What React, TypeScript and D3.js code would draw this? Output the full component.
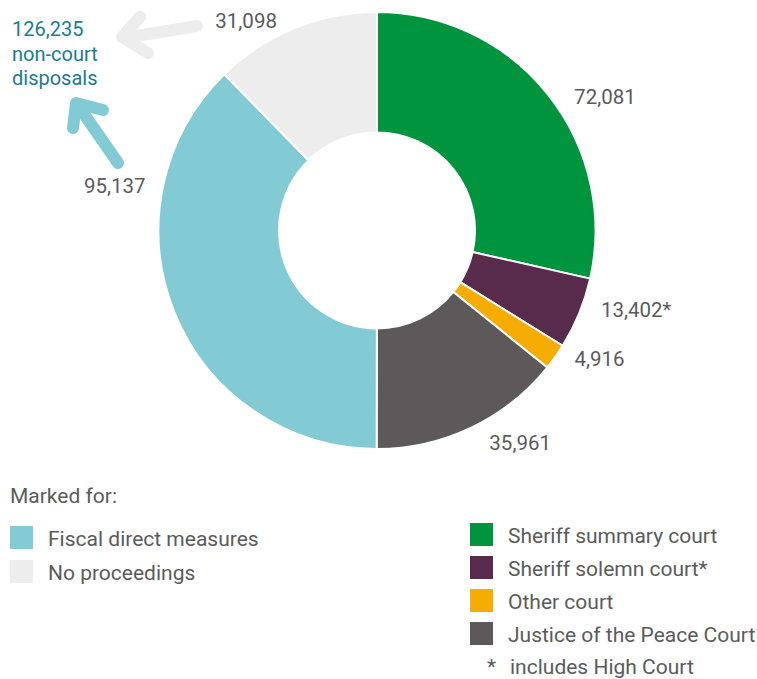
import { useEffect, useRef } from "react";
import * as d3 from "d3";

// slices, clockwise from 12 o'clock
const categories = [
  "Sheriff summary court",
  "Sheriff solemn court*",
  "Other court",
  "Justice of the Peace Court",
  "Fiscal direct measures",
  "No proceedings",
];
const values = [72081, 13402, 4916, 35961, 95137, 31098];
const valueLabels = ["72,081", "13,402*", "4,916", "35,961", "95,137", "31,098"];
const colors = ["#00943f", "#582a4b", "#f6ac00", "#5d5859", "#82cbd4", "#ededed"];

const rightLegend = [0, 1, 2, 3];
const leftLegend = [4, 5];
const nonCourtText = ["126,235", "non-court", "disposals"];

// label placement around the ring: angle (deg from top) and radius
const labelPolar: [number, number][] = [
  [59.7, 264],
  [107, 271],
  [120, 257],
  [146, 256],
  [279.7, 266],
  [328, 247],
];

export default function App() {
  const ref = useRef<SVGSVGElement>(null);

  useEffect(() => {
    const svg = d3.select(ref.current);
    svg.selectAll("*").remove();

    const cx = 377;
    const cy = 230.5;
    const outer = 218.5;
    const inner = 98;
    const font = "Roboto, 'Open Sans', sans-serif";
    const textColor = "#5b5b5b";

    const pie = d3.pie<number>().sort(null).value((d) => d);
    const arc = d3
      .arc<d3.PieArcDatum<number>>()
      .innerRadius(inner)
      .outerRadius(outer);

    const g = svg.append("g").attr("transform", `translate(${cx},${cy})`);
    g.selectAll("path")
      .data(pie(values))
      .join("path")
      .attr("d", arc)
      .attr("fill", (d, i) => colors[i])
      .attr("stroke", "#fff")
      .attr("stroke-width", 2);

    g.selectAll("text.val")
      .data(valueLabels)
      .join("text")
      .attr("class", "val")
      .attr("transform", (d, i) => {
        const [a, r] = labelPolar[i];
        const [x, y] = d3.pointRadial((a * Math.PI) / 180, r);
        return `translate(${x},${y})`;
      })
      .attr("text-anchor", "middle")
      .attr("dy", "0.35em")
      .attr("font-family", font)
      .attr("font-size", 20.5)
      .attr("fill", textColor)
      .text((d) => d);

    // arrows pointing to the "non-court" note
    const arrows = [
      { color: "#ededed", shaft: [[197, 26], [124, 38]], head: [[140, 17], [122, 37], [148, 53]] },
      { color: "#82cbd4", shaft: [[118, 163], [77, 104]], head: [[103, 110], [76, 103], [73, 128]] },
    ];
    const line = d3.line();
    arrows.forEach((a) => {
      [a.shaft, a.head].forEach((pts) => {
        svg
          .append("path")
          .attr("d", line(pts as [number, number][]))
          .attr("fill", "none")
          .attr("stroke", a.color)
          .attr("stroke-width", 12)
          .attr("stroke-linecap", "round")
          .attr("stroke-linejoin", "round");
      });
    });

    svg
      .append("g")
      .selectAll("text")
      .data(nonCourtText)
      .join("text")
      .attr("x", 12)
      .attr("y", (d, i) => 36 + i * 24.5)
      .attr("font-family", font)
      .attr("font-size", 20)
      .attr("fill", "#1a7b92")
      .text((d) => d);

    // legends
    svg
      .append("text")
      .attr("x", 10)
      .attr("y", 503)
      .attr("font-family", font)
      .attr("font-size", 21)
      .attr("fill", textColor)
      .text("Marked for:");

    const drawLegend = (idx: number[], x: number, y0: number, step: number) => {
      const lg = svg
        .append("g")
        .selectAll("g")
        .data(idx)
        .join("g")
        .attr("transform", (d, i) => `translate(${x},${y0 + i * step})`);
      lg.append("rect")
        .attr("width", 23)
        .attr("height", 23)
        .attr("fill", (d) => colors[d]);
      lg.append("text")
        .attr("x", 38)
        .attr("y", 20)
        .attr("font-family", font)
        .attr("font-size", 21)
        .attr("fill", textColor)
        .text((d) => categories[d]);
    };
    drawLegend(leftLegend, 10, 526, 34);
    drawLegend(rightLegend, 470, 523, 33);

    svg
      .append("text")
      .attr("x", 487)
      .attr("y", 674)
      .attr("font-family", font)
      .attr("font-size", 21)
      .attr("fill", textColor)
      .text("*");
    svg
      .append("text")
      .attr("x", 510)
      .attr("y", 674)
      .attr("font-family", font)
      .attr("font-size", 21)
      .attr("fill", textColor)
      .text("includes High Court");
  }, []);

  return (
    <svg
      ref={ref}
      width={757}
      height={679}
      style={{ position: "absolute", left: 0, top: 0, background: "#fff" }}
    />
  );
}
